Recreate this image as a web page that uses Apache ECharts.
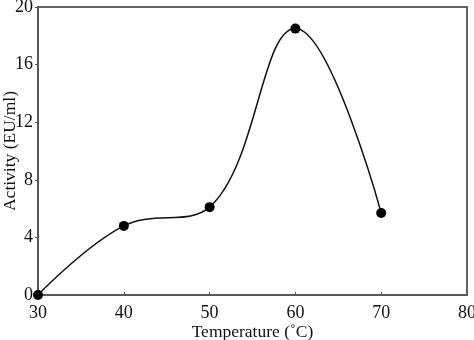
<!DOCTYPE html>
<html><head><meta charset="utf-8">
<script src="https://cdn.jsdelivr.net/npm/echarts@6/dist/echarts.min.js"></script>
<style>html,body{margin:0;padding:0;background:#fff}#c{width:474px;height:340px}</style>
</head><body><div id="c"></div>
<script>
const temperatures = [30, 40, 50, 60, 70];
const activity = [0, 4.8, 6.1, 18.5, 5.7];
const xTicks = [30, 40, 50, 60, 70, 80];
const yTicks = [0, 4, 8, 12, 16, 20];
const xTitle = 'Temperature (\u02daC)';
const yTitle = 'Activity (EU/ml)';

const font = '"Liberation Serif", "Times New Roman", serif';
const chart = echarts.init(document.getElementById('c'), null, {renderer: 'canvas'});
chart.setOption({
  animation: false,
  backgroundColor: '#fff',
  grid: {left: 38, right: 7, top: 7, bottom: 45, show: true, borderColor: '#333', borderWidth: 1.5, containLabel: false, outerBoundsMode: 'none'},
  xAxis: {
    type: 'value', min: xTicks[0], max: xTicks[xTicks.length - 1], interval: 10,
    name: xTitle, nameLocation: 'middle', nameGap: 28, nameMoveOverlap: false,
    nameTextStyle: {fontFamily: font, fontSize: 17.5, color: '#111'},
    axisLine: {show: true, lineStyle: {color: '#555', width: 1.5}},
    axisTick: {show: true, length: 3, inside: true, lineStyle: {color: '#555'}},
    axisLabel: {fontFamily: font, fontSize: 18, color: '#111', margin: 9},
    splitLine: {show: false}
  },
  yAxis: {
    type: 'value', min: yTicks[0], max: yTicks[yTicks.length - 1], interval: 4,
    name: yTitle, nameLocation: 'middle', nameGap: 19, nameMoveOverlap: false,
    nameTextStyle: {fontFamily: font, fontSize: 17.5, color: '#111'},
    axisLine: {show: true, lineStyle: {color: '#555', width: 1.5}},
    axisTick: {show: true, length: 3, inside: false, lineStyle: {color: '#555'}},
    axisLabel: {fontFamily: font, fontSize: 18, color: '#111', margin: 5},
    splitLine: {show: false}
  },
  series: [{
    type: 'line',
    data: temperatures.map((t, i) => [t, activity[i]]),
    smooth: 0.4,
    symbol: 'circle', symbolSize: 10,
    itemStyle: {color: '#000'},
    lineStyle: {color: '#111', width: 1.5}
  }]
});
</script></body></html>
